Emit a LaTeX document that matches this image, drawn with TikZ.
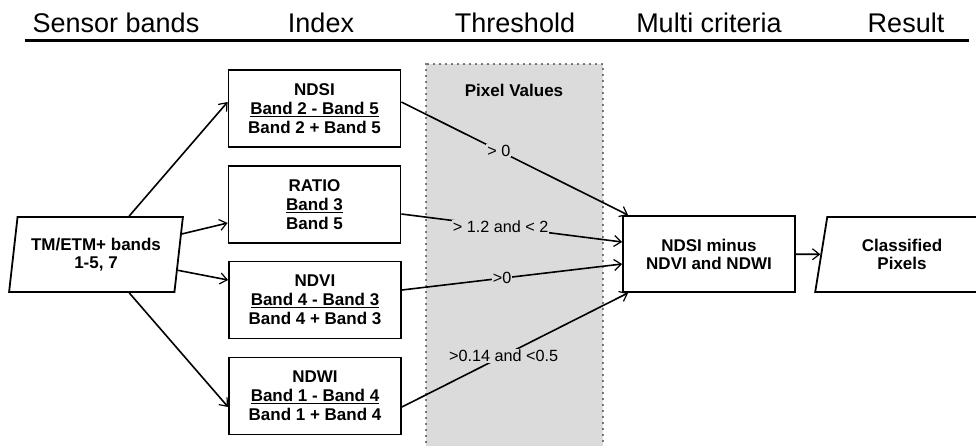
\documentclass[tikz,border=0pt]{standalone}
\usepackage{fontspec}
\setmainfont{Liberation Sans}
\usetikzlibrary{shapes.geometric,arrows.meta}
\tikzset{
  colhead/.style={anchor=base,font=\fontsize{27}{30}\selectfont},
  idxbox/.style={draw,line width=1.8pt,minimum width=172pt,minimum height=77pt,inner sep=0pt,align=center,font=\fontsize{17}{19}\selectfont\bfseries},
  iobox/.style={draw,line width=1.8pt,trapezium,trapezium left angle=78,trapezium right angle=102,trapezium stretches=true,minimum width=174pt,minimum height=75pt,inner sep=0pt,align=center,font=\fontsize{17}{18}\selectfont\bfseries},
  flow/.style={line width=1.6pt,-{Straight Barb[length=7pt,width=11pt,line width=1.2pt]}},
  crit/.style={fill=black!14,inner sep=1pt,font=\fontsize{16.2}{18}\selectfont},
}
\begin{document}
\begin{tikzpicture}[x=1pt,y=-1pt]
\useasboundingbox (0,0) rectangle (976,445);
\node[colhead] (hsensor) at (116,32) {Sensor bands};
\node[colhead] (hindex) at (321,32) {Index};
\node[colhead] (hthresh) at (515,32) {Threshold};
\node[colhead] (hmulti) at (709,32) {Multi criteria};
\node[colhead] (hresult) at (906,32) {Result};
\draw[line width=3pt] (25,40) -- (969,40);
\filldraw[fill=black!14,draw=black,line width=1.8pt,line cap=round,dash pattern=on 0pt off 6pt] (426,64) rectangle (603,452);
\node[font=\fontsize{17}{19}\selectfont\bfseries] (pixval) at (514,90) {Pixel Values};
\node[iobox] (bands) at (96,254.5) {TM/ETM+ bands\\1-5, 7};
\node[idxbox] (ndsi) at (314.5,108.5) {NDSI\\\underline{Band 2 - Band 5}\\Band 2 + Band 5};
\node[idxbox] (ratio) at (314.5,204.5) {RATIO\\\underline{Band 3}\\Band 5};
\node[idxbox] (ndvi) at (315,300) {NDVI\\\underline{Band 4 - Band 3}\\Band 4 + Band 3};
\node[idxbox] (ndwi) at (315,396) {NDWI\\\underline{Band 1 - Band 4}\\Band 1 + Band 4};
\node[idxbox,minimum height=76pt,font=\fontsize{17}{18}\selectfont\bfseries] (multi) at (709,254) {NDSI minus\\NDVI and NDWI};
\node[iobox] (result) at (902,254.5) {Classified\\Pixels};
\draw[flow] (bands) -- ([yshift=6.5pt]ndsi.west);
\draw[flow] (bands) -- ([yshift=-18.5pt]ratio.west);
\draw[flow] (bands) -- ([yshift=20pt]ndvi.west);
\draw[flow] (bands) -- ([yshift=-11pt]ndwi.west);
\draw[flow] ([yshift=6.5pt]ndsi.east) -- node[crit,pos=0.43] {> 0} ([xshift=6pt]multi.north west);
\draw[flow] ([yshift=-9.5pt]ratio.east) -- node[crit,pos=0.45] {> 1.2 and < 2} ([yshift=12pt]multi.west);
\draw[flow] ([yshift=10pt]ndvi.east) -- node[crit,pos=0.455] {>0} ([yshift=-10pt]multi.west);
\draw[flow] ([yshift=-11pt]ndwi.east) -- node[crit,pos=0.45] {>0.14 and <0.5} ([xshift=6pt]multi.south west);
\draw[flow] (multi) -- (result);
\end{tikzpicture}
\end{document}
